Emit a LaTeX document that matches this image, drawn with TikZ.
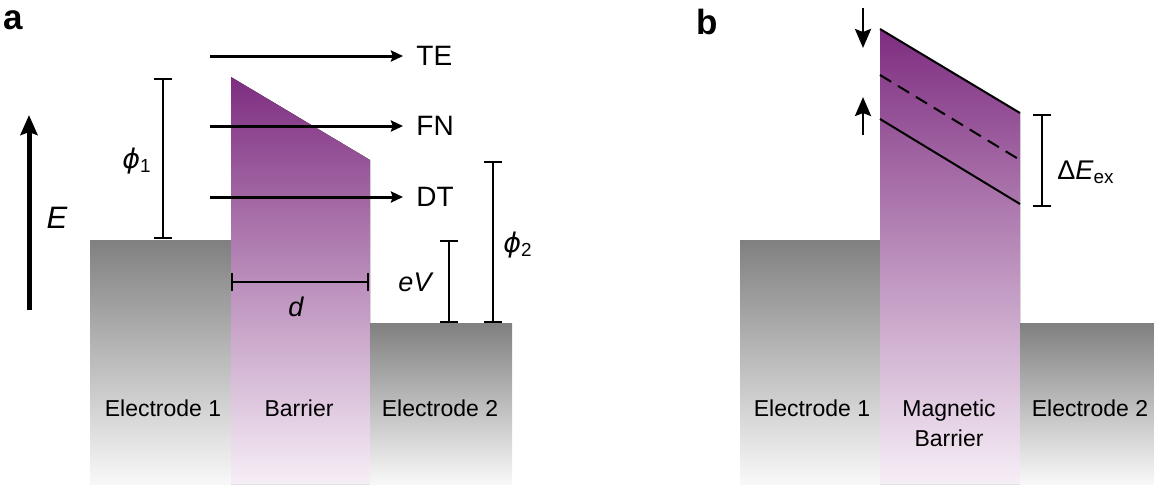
\documentclass[tikz,border=0pt]{standalone}
\usepackage{fontspec}
\setmainfont{Liberation Sans}
\newfontfamily\greekfont{DejaVu Sans}
\usetikzlibrary{arrows.meta}
\definecolor{barrierdark}{HTML}{7E2D80}
\definecolor{barrierlight}{HTML}{F6EEF6}
\definecolor{electrodedark}{HTML}{808080}
\definecolor{electrodelight}{HTML}{F8F8F8}
\tikzset{
  electrode/.style={top color=electrodedark, bottom color=electrodelight, draw=none},
  barrier/.style={top color=barrierdark, bottom color=barrierlight, draw=none},
  levelbar/.style={{Bar[width=9pt]}-{Bar[width=9pt]}, line width=0.85pt},
  tunnel/.style={-{Stealth[length=6pt, width=5.5pt, inset=0.8pt]}, line width=1.5pt},
  spin/.style={-{Stealth[length=9.5pt, width=8pt, inset=1.5pt]}, line width=1.35pt},
  bandedge/.style={line width=1pt},
  regionlabel/.style={font=\fontsize{11.5}{15}\selectfont, align=center, inner sep=0pt},
  mathlabel/.style={font=\fontsize{13.5}{16}\selectfont, inner sep=0pt},
  panellabel/.style={font=\fontsize{17.5}{20}\selectfont\bfseries, inner sep=0pt}
}
\newcommand{\phisym}[1]{{\greekfont\itshape ϕ}\textsubscript{#1}}

\begin{document}
\begin{tikzpicture}[x=0.5pt, y=-0.5pt]
\useasboundingbox (0,0) rectangle (1154,484);

% ---- panel a ----
\node[panellabel] (lbla) at (13,20) {a};

% electrodes and barrier
\fill[electrode] (90,240) rectangle (231,484);
\fill[barrier] (231,77) -- (370,160) -- (370,484) -- (231,484) -- cycle;
\fill[electrode] (370,323) rectangle (512,484);

% energy axis
\coordinate (ebot) at (29,310);
\coordinate (etop) at (29,115);
\draw[-{Stealth[length=10pt, width=8.5pt, inset=1.5pt]}, line width=2.5pt] (ebot) -- (etop);
\node[font=\fontsize{15.5}{18}\selectfont\itshape, inner sep=0pt] (elbl) at (57,218) {E};

% transport channels
\foreach \yy/\nm in {56/TE, 126/FN, 197/DT} {
  \coordinate (\nm0) at (210,\yy);
  \coordinate (\nm1) at (403,\yy);
  \draw[tunnel] (\nm0) -- (\nm1);
  \node[font=\fontsize{14}{16}\selectfont, anchor=west, inner sep=0pt] (\nm lbl) at (416,\yy) {\nm};
}

% barrier heights, bias and thickness
\coordinate (phia) at (163,78);
\coordinate (phib) at (163,239);
\draw[levelbar] (phia) -- (phib);
\node[mathlabel] (phi1lbl) at (137,161) {\phisym{1}};

\coordinate (eva) at (449,240);
\coordinate (evb) at (449,323);
\draw[levelbar] (eva) -- (evb);
\node[mathlabel] (evlbl) at (415,282) {\itshape eV};

\coordinate (phic) at (493,161);
\coordinate (phid) at (493,323);
\draw[levelbar] (phic) -- (phid);
\node[mathlabel] (phi2lbl) at (518,245) {\phisym{2}};

\coordinate (da) at (231,282);
\coordinate (db) at (369,282);
\draw[levelbar] (da) -- (db);
\node[mathlabel] (dlbl) at (296,307) {\itshape d};

\node[regionlabel] (el1a) at (163,408) {Electrode 1};
\node[regionlabel] (bara) at (299,408) {Barrier};
\node[regionlabel] (el2a) at (440,408) {Electrode 2};

% ---- panel b ----
\node[panellabel] (lblb) at (707,22) {b};

\fill[electrode] (740,240) rectangle (880,484);
\fill[barrier] (880,29) -- (1020,113) -- (1020,484) -- (880,484) -- cycle;
\fill[electrode] (1020,323) rectangle (1154,484);

% spin split band edges
\coordinate (dnl) at (880,29);   \coordinate (dnr) at (1020,113);
\coordinate (avl) at (880,75);   \coordinate (avr) at (1020,160);
\coordinate (upl) at (880,119);  \coordinate (upr) at (1020,204);
\draw[bandedge] (dnl) -- (dnr);
\draw[bandedge, dash pattern=on 6.5pt off 4pt] (avl) -- (avr);
\draw[bandedge] (upl) -- (upr);

\coordinate (sdtop) at (863,8);
\coordinate (sdbot) at (863,48);
\draw[spin] (sdtop) -- (sdbot);
\coordinate (subot) at (863,135);
\coordinate (sutop) at (863,97);
\draw[spin] (subot) -- (sutop);

\coordinate (exa) at (1042,114);
\coordinate (exb) at (1042,207);
\draw[levelbar] (exa) -- (exb);
\node[mathlabel, anchor=west] (exlbl) at (1057,172) {Δ\textit{E}\textsubscript{ex}};

\node[regionlabel] (el1b) at (812,408) {Electrode 1};
\node[regionlabel] (barb) at (949,423) {Magnetic\\Barrier};
\node[regionlabel] (el2b) at (1090,408) {Electrode 2};

\end{tikzpicture}
\end{document}
